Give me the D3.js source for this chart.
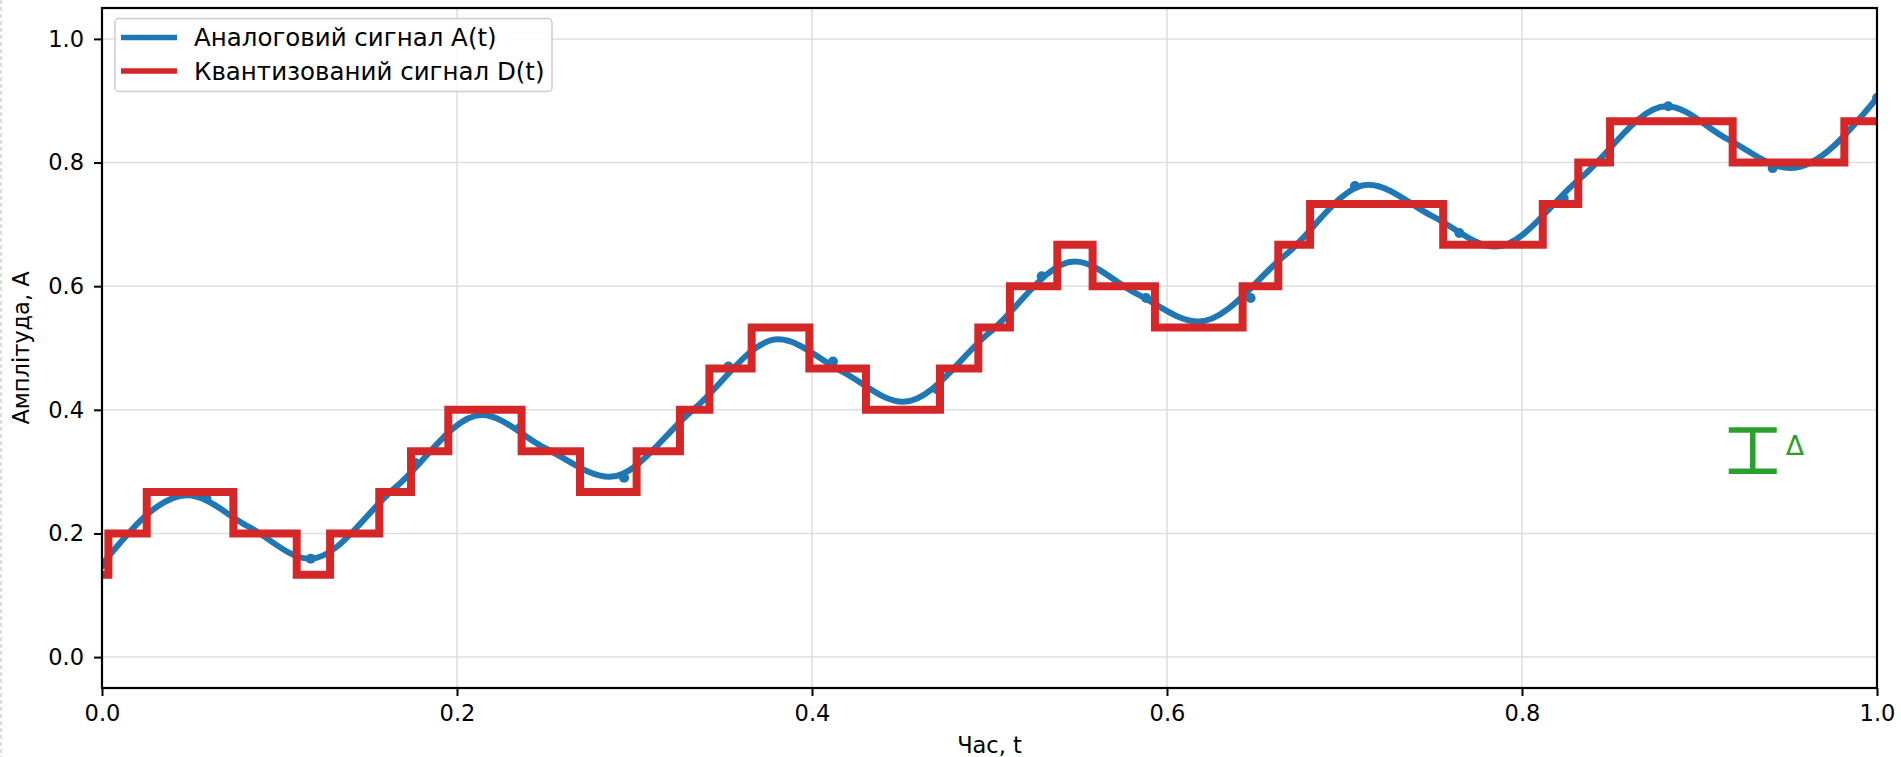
<!DOCTYPE html>
<html>
<head>
<meta charset="utf-8">
<script src="https://cdn.jsdelivr.net/npm/d3@7"></script>
<style>
  html, body { margin: 0; padding: 0; background: #ffffff; }
  svg { display: block; }
  text { font-family: "DejaVu Sans", sans-serif; }
</style>
</head>
<body>
<svg id="chart" width="1901" height="757"></svg>
<script>
// ---- data ----
const analogT = [0, 0.048, 0.0825, 0.117, 0.1655, 0.214, 0.25, 0.286, 0.333, 0.381, 0.4165, 0.4514, 0.5, 0.548, 0.583, 0.6177, 0.6665, 0.7134, 0.75, 0.7848, 0.833, 0.8815, 0.916, 0.951, 1.0];
const analogA = [0.15, 0.262, 0.211, 0.159, 0.275, 0.3915, 0.3375, 0.2916, 0.40, 0.514, 0.4625, 0.413, 0.525, 0.640, 0.5875, 0.5427, 0.65, 0.764, 0.7125, 0.664, 0.775, 0.891, 0.8375, 0.791, 0.9045];

const sampleT = [0, 0.0588, 0.1176, 0.1765, 0.2353, 0.2941, 0.3529, 0.4118, 0.4706, 0.5294, 0.5882, 0.6471, 0.7059, 0.7647, 0.8235, 0.8824, 0.9412, 1.0];
const sampleA = [0.15, 0.257, 0.159, 0.314, 0.37, 0.29, 0.47, 0.478, 0.433, 0.616, 0.581, 0.581, 0.762, 0.686, 0.742, 0.891, 0.791, 0.9045];

// quantized signal: change times and the level held from that time on
const stepT = [0, 0.0036, 0.0252, 0.0740, 0.1097, 0.1285, 0.1562, 0.1741, 0.1951, 0.2364, 0.2693, 0.3012, 0.3256, 0.3422, 0.366, 0.3985, 0.4304, 0.4721, 0.4937, 0.5115, 0.5382, 0.5581, 0.5932, 0.6426, 0.6627, 0.6806, 0.7556, 0.8117, 0.8317, 0.8496, 0.9187, 0.9816, 1.0];
const stepD = [0.133, 0.2, 0.267, 0.2, 0.133, 0.2, 0.267, 0.333, 0.4, 0.333, 0.267, 0.333, 0.4, 0.467, 0.533, 0.467, 0.4, 0.467, 0.533, 0.6, 0.667, 0.6, 0.533, 0.6, 0.667, 0.733, 0.667, 0.733, 0.8, 0.867, 0.8, 0.867, 0.867];

const deltaT = 0.93, deltaCenter = 0.334, deltaStep = 0.0667;

const xTicks = [0, 0.2, 0.4, 0.6, 0.8, 1.0];
const yTicks = [0, 0.2, 0.4, 0.6, 0.8, 1.0];
const xDomain = [0, 1];
const yDomain = [-0.05, 1.05];

const legendLabels = ["Аналоговий сигнал A(t)", "Квантизований сигнал D(t)"];
const xLabel = "Час, t";
const yLabel = "Амплітуда, A";

// ---- layout ----
const W = 1901, H = 757;
const m = { left: 102, right: 1877, top: 8, bottom: 688 };
const blue = "#1f77b4", red = "#d62728", green = "#2ca02c";
const FS = 22.5;
const LFS = 24.5;

const svg = d3.select("#chart");
svg.append("rect").attr("width", W).attr("height", H).attr("fill", "#fff");
// faint dashed border at left edge seen in the reference
svg.append("line").attr("x1", 1).attr("x2", 1).attr("y1", 0).attr("y2", H)
  .attr("stroke", "#d0d0d0").attr("stroke-width", 1.5).attr("stroke-dasharray", "4,3");

const x = d3.scaleLinear().domain(xDomain).range([m.left, m.right]);
const y = d3.scaleLinear().domain(yDomain).range([m.bottom, m.top]);

svg.append("clipPath").attr("id", "clip").append("rect")
  .attr("x", m.left).attr("y", m.top).attr("width", m.right - m.left).attr("height", m.bottom - m.top);

// grid
const grid = svg.append("g");
grid.selectAll(".gx").data(xTicks).join("line")
  .attr("x1", d => x(d)).attr("x2", d => x(d)).attr("y1", m.top).attr("y2", m.bottom)
  .attr("stroke", "#dedede").attr("stroke-width", 1.5);
grid.selectAll(".gy").data(yTicks).join("line")
  .attr("x1", m.left).attr("x2", m.right).attr("y1", d => y(d)).attr("y2", d => y(d))
  .attr("stroke", "#dedede").attr("stroke-width", 1.5);

const plot = svg.append("g").attr("clip-path", "url(#clip)");

// analog curve
const analog = analogT.map((t, i) => ({ t, v: analogA[i] }));
plot.append("path").datum(analog)
  .attr("fill", "none").attr("stroke", blue).attr("stroke-width", 6)
  .attr("d", d3.line().x(d => x(d.t)).y(d => y(d.v)).curve(d3.curveMonotoneX));

// sample points
const samples = sampleT.map((t, i) => ({ t, v: sampleA[i] }));
plot.selectAll(".dot").data(samples).join("circle")
  .attr("cx", d => x(d.t)).attr("cy", d => y(d.v)).attr("r", 5).attr("fill", blue);

// quantized signal
const steps = stepT.map((t, i) => ({ t, v: stepD[i] }));
plot.append("path").datum(steps)
  .attr("fill", "none").attr("stroke", red).attr("stroke-width", 8)
  .attr("stroke-linejoin", "miter").attr("stroke-linecap", "square")
  .attr("d", d3.line().x(d => x(d.t)).y(d => y(d.v)).curve(d3.curveStepAfter));

// delta marker
const dg = svg.append("g").attr("stroke", green).attr("stroke-width", 5.5);
const capHalf = 24;
dg.append("line").attr("x1", x(deltaT)).attr("x2", x(deltaT))
  .attr("y1", y(deltaCenter + deltaStep / 2)).attr("y2", y(deltaCenter - deltaStep / 2));
dg.append("line").attr("x1", x(deltaT) - capHalf).attr("x2", x(deltaT) + capHalf)
  .attr("y1", y(deltaCenter + deltaStep / 2)).attr("y2", y(deltaCenter + deltaStep / 2));
dg.append("line").attr("x1", x(deltaT) - capHalf).attr("x2", x(deltaT) + capHalf)
  .attr("y1", y(deltaCenter - deltaStep / 2)).attr("y2", y(deltaCenter - deltaStep / 2));
svg.append("text").attr("x", x(deltaT) + 33).attr("y", y(deltaCenter + deltaStep * 0.12))
  .attr("dominant-baseline", "central").attr("fill", green).attr("font-size", 27).text("Δ");

// axes
const xAxis = svg.append("g").attr("transform", `translate(0,${m.bottom})`)
  .call(d3.axisBottom(x).tickValues(xTicks).tickFormat(d3.format(".1f")).tickSize(8).tickPadding(9));
const yAxis = svg.append("g").attr("transform", `translate(${m.left},0)`)
  .call(d3.axisLeft(y).tickValues(yTicks).tickFormat(d3.format(".1f")).tickSize(8).tickPadding(10));
[xAxis, yAxis].forEach(a => {
  a.select(".domain").remove();
  a.selectAll(".tick line").attr("stroke", "#000").attr("stroke-width", 2);
  a.selectAll(".tick text").attr("font-size", FS).attr("fill", "#000")
    .attr("font-family", "DejaVu Sans, sans-serif");
});

// frame
svg.append("rect").attr("x", m.left).attr("y", m.top)
  .attr("width", m.right - m.left).attr("height", m.bottom - m.top)
  .attr("fill", "none").attr("stroke", "#000").attr("stroke-width", 2.2);

// axis labels
svg.append("text").attr("x", (m.left + m.right) / 2).attr("y", 753)
  .attr("text-anchor", "middle").attr("font-size", FS).attr("fill", "#000").text(xLabel);
svg.append("text").attr("transform", `translate(21,${(m.top + m.bottom) / 2}) rotate(-90)`)
  .attr("text-anchor", "middle").attr("dominant-baseline", "central")
  .attr("font-size", FS).attr("fill", "#000").text(yLabel);

// legend
const lg = svg.append("g");
lg.append("rect").attr("x", 115).attr("y", 18.5).attr("width", 437).attr("height", 73)
  .attr("rx", 4).attr("fill", "#fff").attr("fill-opacity", 0.85)
  .attr("stroke", "#cccccc").attr("stroke-width", 1.5);
const lColors = [blue, red];
legendLabels.forEach((lab, i) => {
  const ly = 37.5 + i * 33.5;
  lg.append("line").attr("x1", 121).attr("x2", 177).attr("y1", ly).attr("y2", ly)
    .attr("stroke", lColors[i]).attr("stroke-width", 5.5);
  lg.append("text").attr("x", 194).attr("y", ly).attr("dominant-baseline", "central")
    .attr("font-size", LFS).attr("fill", "#000").text(lab);
});
</script>
</body>
</html>
